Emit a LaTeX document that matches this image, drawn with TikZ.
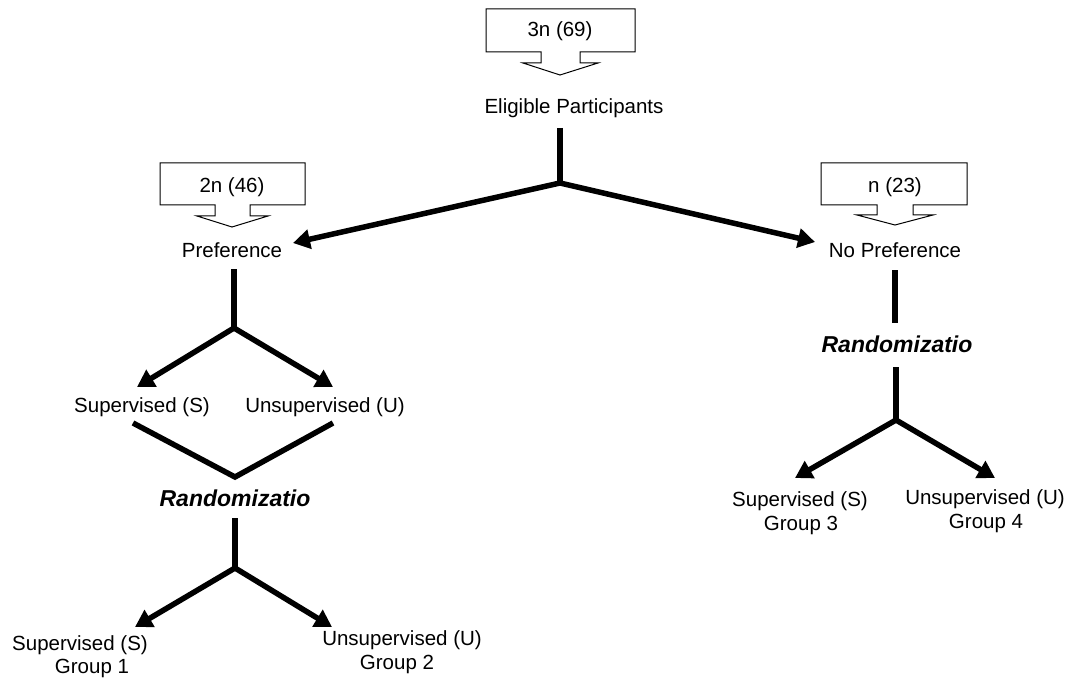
\documentclass[tikz,border=0pt]{standalone}
\usepackage{fontspec}
\setmainfont{Liberation Sans}
\usetikzlibrary{arrows.meta}
\tikzset{
  lbl/.style={inner sep=0pt, font=\fontsize{20.5}{24}\selectfont},
  rnd/.style={inner sep=0pt, font=\fontsize{23}{26}\selectfont\bfseries\itshape},
  conn/.style={line width=5.5pt, line cap=butt, line join=miter},
  arr/.style={conn, -{Triangle[length=17pt,width=19pt]}},
  callout/.style={draw=black, line width=1pt, fill=white, line join=miter}
}
\begin{document}
\begin{tikzpicture}[x=1pt,y=-1pt]
\useasboundingbox (0,0) rectangle (1071,679);

% callout boxes with block arrows
\draw[callout] (486,9) -- (635,9) -- (635,52) -- (580,52) -- (580,63) -- (598,63)
  -- (560,75) -- (523,63) -- (541,63) -- (541,52) -- (486,52) -- cycle;
\node[lbl] (c1) at (560,31) {3n (69)};

\draw[callout] (160,163) -- (305,163) -- (305,205) -- (250,205) -- (250,216) -- (268,216)
  -- (232,227) -- (197,216) -- (215,216) -- (215,205) -- (160,205) -- cycle;
\node[lbl] (c2) at (232,187) {2n (46)};

\draw[callout] (821,163) -- (967,163) -- (967,205) -- (913,205) -- (913,215) -- (933,215)
  -- (895,225) -- (857,215) -- (877,215) -- (877,205) -- (821,205) -- cycle;
\node[lbl] (c3) at (895,187) {n (23)};

% text nodes
\node[lbl] (elig) at (574,108) {Eligible Participants};
\node[lbl] (pref) at (232,250) {Preference};
\node[lbl] (nopref) at (895,250) {No Preference};
\node[lbl] (s1) at (142,407) {Supervised (S)};
\node[lbl] (u1) at (325,407) {Unsupervised (U)};
\node[rnd] (r1) at (235,498) {Randomizatio};
\node[lbl] (s2) at (80,645) {Supervised (S)};
\node[lbl] (g1) at (92,668) {Group 1};
\node[lbl] (u2) at (402,640) {Unsupervised (U)};
\node[lbl] (g2) at (397,664) {Group 2};
\node[rnd] (r2) at (897,344) {Randomizatio};
\node[lbl] (s3) at (800,501) {Supervised (S)};
\node[lbl] (g3) at (801,525) {Group 3};
\node[lbl] (u3) at (985,499) {Unsupervised (U)};
\node[lbl] (g4) at (986,523) {Group 4};

% coordinates
\coordinate (a0) at (560,128);
\coordinate (j1) at (560,183);
\coordinate (t1) at (293,243);
\coordinate (t2) at (815,242);
\coordinate (a1) at (234,269);
\coordinate (j2) at (234,328);
\coordinate (t3) at (137,387);
\coordinate (t4) at (333,387);
\coordinate (v1) at (133,423);
\coordinate (v2) at (235,477);
\coordinate (v3) at (333,423);
\coordinate (a2) at (235,518);
\coordinate (j3) at (235,568);
\coordinate (t5) at (135,627);
\coordinate (t6) at (332,627);
\coordinate (a3) at (895,270);
\coordinate (a4) at (895,323);
\coordinate (a5) at (896,367);
\coordinate (j4) at (896,420);
\coordinate (t7) at (795,478);
\coordinate (t8) at (995,478);

% connectors
\draw[conn] (a0) -- (j1);
\draw[arr] (j1) -- (t1);
\draw[arr] (j1) -- (t2);
\draw[conn] (a1) -- (j2);
\draw[arr] (j2) -- (t3);
\draw[arr] (j2) -- (t4);
\draw[conn] (v1) -- (v2) -- (v3);
\draw[conn] (a2) -- (j3);
\draw[arr] (j3) -- (t5);
\draw[arr] (j3) -- (t6);
\draw[conn] (a3) -- (a4);
\draw[conn] (a5) -- (j4);
\draw[arr] (j4) -- (t7);
\draw[arr] (j4) -- (t8);
\end{tikzpicture}
\end{document}
